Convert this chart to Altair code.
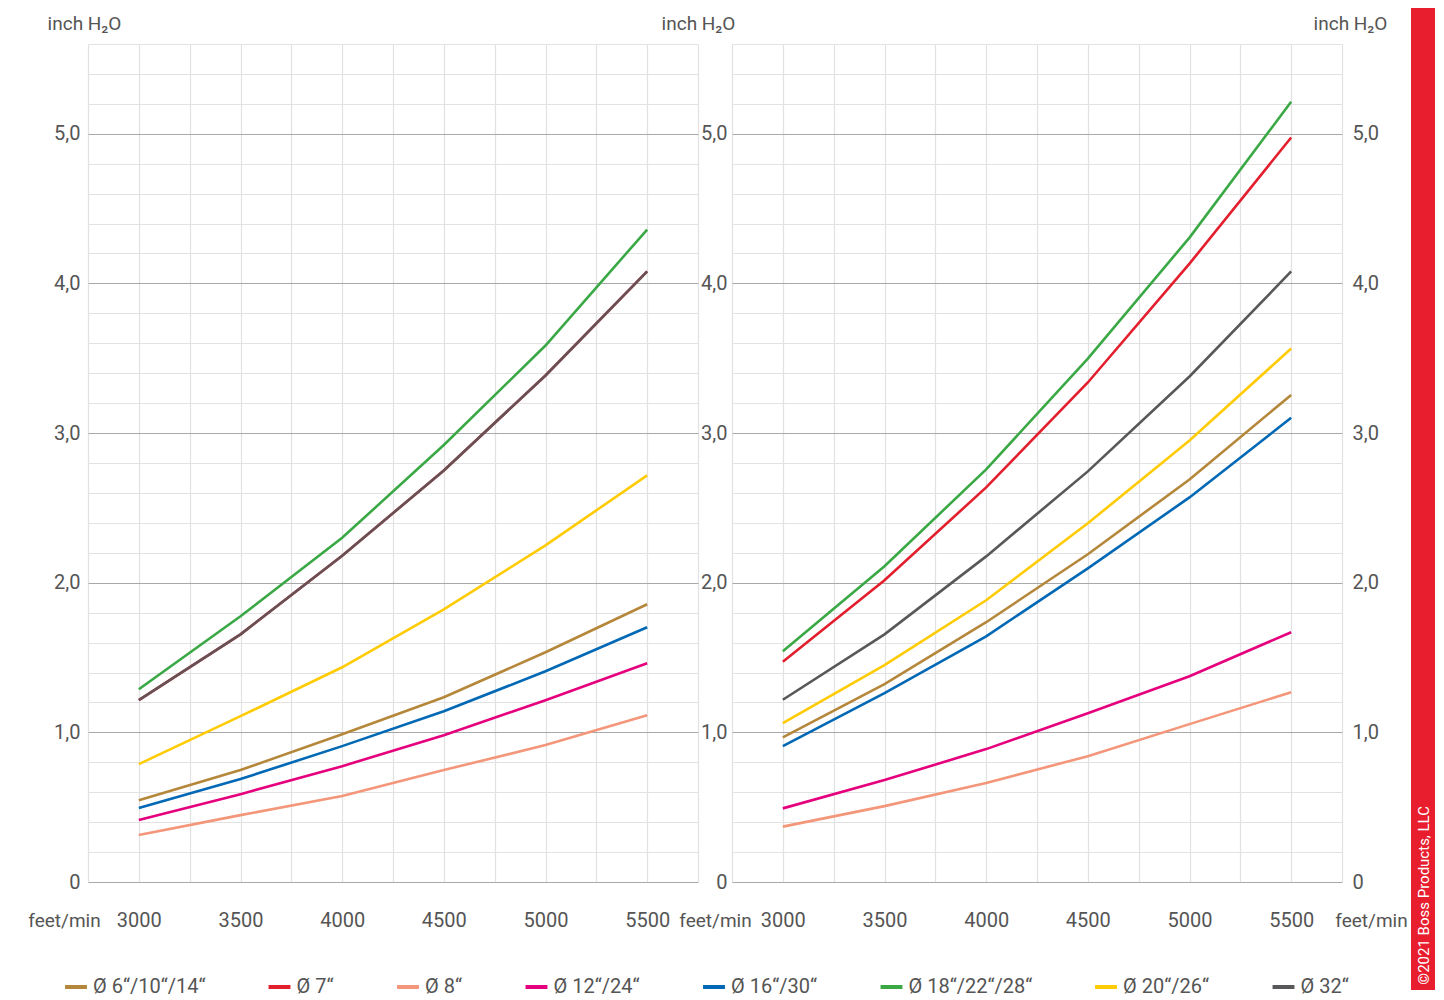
import altair as alt
import pandas as pd

speeds = [3000, 3500, 4000, 4500, 5000, 5500]
series = ["Ø 6“/10“/14“", "Ø 7“", "Ø 8“", "Ø 12“/24“", "Ø 16“/30“",
          "Ø 18“/22“/28“", "Ø 20“/26“", "Ø 32“"]
colors = ["#B5873A", "#E31E2D", "#F4967A", "#E5007D", "#0068B4",
          "#3AA845", "#FFCB05", "#58585A"]

# left panel values (inch H2O)
left_6_10_14 = [0.547, 0.748, 0.988, 1.235, 1.535, 1.856]
left_7 = [1.215, 1.655, 2.180, 2.750, 3.385, 4.080]
left_8 = [0.314, 0.447, 0.574, 0.748, 0.915, 1.115]
left_12_24 = [0.414, 0.587, 0.774, 0.981, 1.215, 1.462]
left_16_30 = [0.494, 0.688, 0.908, 1.141, 1.408, 1.702]
left_18_22_28 = [1.288, 1.776, 2.300, 2.920, 3.585, 4.360]
left_20_26 = [0.788, 1.108, 1.435, 1.822, 2.250, 2.717]
left_32 = [1.215, 1.655, 2.180, 2.750, 3.385, 4.080]

# right panel values (inch H2O)
right_6_10_14 = [0.966, 1.322, 1.736, 2.190, 2.690, 3.255]
right_7 = [1.472, 2.016, 2.637, 3.338, 4.132, 4.975]
right_8 = [0.370, 0.507, 0.661, 0.841, 1.055, 1.268]
right_12_24 = [0.492, 0.681, 0.888, 1.128, 1.375, 1.669]
right_16_30 = [0.908, 1.262, 1.642, 2.096, 2.570, 3.102]
right_18_22_28 = [1.542, 2.110, 2.757, 3.498, 4.306, 5.214]
right_20_26 = [1.062, 1.449, 1.883, 2.397, 2.950, 3.565]
right_32 = [1.218, 1.655, 2.176, 2.744, 3.378, 4.080]

x_ticks = [2750, 3000, 3250, 3500, 3750, 4000, 4250, 4500, 4750, 5000, 5250, 5500, 5750]
y_ticks = [0.0, 0.2, 0.4, 0.6, 0.8, 1.0, 1.2, 1.4, 1.6, 1.8, 2.0, 2.2, 2.4, 2.6, 2.8,
           3.0, 3.2, 3.4, 3.6, 3.8, 4.0, 4.2, 4.4, 4.6, 4.8, 5.0, 5.2, 5.4, 5.6]
x_title = "feet/min"
y_title = "inch H₂O"
credit = ["©2021 Boss Products, LLC"]

left_vals = [left_6_10_14, left_7, left_8, left_12_24, left_16_30, left_18_22_28, left_20_26, left_32]
right_vals = [right_6_10_14, right_7, right_8, right_12_24, right_16_30, right_18_22_28, right_20_26, right_32]


def make_df(vals):
    rows = []
    for i, (name, v) in enumerate(zip(series, vals)):
        for s, val in zip(speeds, v):
            rows.append({"series": name, "idx": i, "speed": s, "value": val})
    return pd.DataFrame(rows)


df_left = make_df(left_vals)
df_right = make_df(right_vals)

FONT = "Roboto"
LABEL_COLOR = "#555555"
MINOR = "#E2E2E2"
MAJOR = "#A9A9A9"
major_test = "abs(datum.value - round(datum.value)) < 0.001"
y_label_expr = ("datum.value == 0 ? '0' : (abs(datum.value - round(datum.value)) < 0.001 ? "
                "replace(format(datum.value, '.1f'), '.', ',') : '')")
x_label_expr = "(datum.value % 500 == 0) ? format(datum.value, 'd') : ''"

xscale = alt.Scale(domain=[2750, 5750], nice=False, zero=False)
yscale = alt.Scale(domain=[0, 5.6], nice=False, zero=False)
cscale = alt.Scale(domain=series, range=colors)

legend = alt.Legend(
    orient="none", legendX=-25, legendY=930, direction="horizontal", title=None,
    symbolType="stroke", symbolStrokeWidth=4, symbolSize=480, labelFontSize=20,
    labelColor=LABEL_COLOR, labelFont=FONT, columnPadding=54.5, labelOffset=4,
    symbolOpacity=1,
)


def x_axis_main(title_x):
    return alt.Axis(
        values=x_ticks, labelExpr=x_label_expr, grid=True, gridColor=MINOR, gridWidth=1.2,
        domain=False, ticks=False, tickSize=0, labelPadding=38, labelBaseline="middle",
        labelFontSize=20, labelColor=LABEL_COLOR, labelFont=FONT, labelFlush=False,
        title=x_title, titleX=title_x, titleY=38, titleAngle=0, titleAlign="center",
        titleBaseline="middle", titleFontSize=19, titleFont=FONT, titleColor=LABEL_COLOR,
        titleFontWeight="normal",
    )


def x_axis_side(title_x):
    return alt.Axis(
        orient="bottom", values=x_ticks, labels=False, grid=False, domain=False, ticks=False,
        tickSize=0, title=x_title, titleX=title_x, titleY=38, titleAngle=0, titleAlign="center",
        titleBaseline="middle", titleFontSize=19, titleFont=FONT, titleColor=LABEL_COLOR,
        titleFontWeight="normal",
    )


def y_axis(orient, pad, title_x, grid):
    return alt.Axis(
        orient=orient, values=y_ticks, labelExpr=y_label_expr, grid=grid,
        gridColor={"condition": {"test": major_test, "value": MAJOR}, "value": MINOR},
        gridWidth=1.2, domain=False, ticks=False, tickSize=0, labelPadding=pad,
        labelFontSize=20, labelColor=LABEL_COLOR, labelFont=FONT, labelBaseline="middle",
        labelFlush=False,
        title=y_title, titleX=title_x, titleY=-15, titleAngle=0, titleAlign="center",
        titleBaseline="alphabetic", titleFontSize=19, titleFont=FONT, titleColor=LABEL_COLOR,
        titleFontWeight="normal",
    )


def lines(df, xa, ya, opacity=1.0):
    return alt.Chart(df).mark_line(strokeWidth=2.6, opacity=opacity).encode(
        x=alt.X("speed:Q", scale=xscale, axis=xa),
        y=alt.Y("value:Q", scale=yscale, axis=ya),
        color=alt.Color("series:N", scale=cscale, legend=legend),
        order="speed:Q",
    )


W, H = 610, 838

lx = x_axis_main(-24)
ly = y_axis("left", 8, -4, True)
left = alt.layer(
    lines(df_left[df_left["idx"] < 7], lx, ly),
    lines(df_left[df_left["idx"] == 7], lx, ly, opacity=0.9),
).properties(width=W, height=H)

ra_x = x_axis_main(-17)
ra_y = y_axis("left", 5, -34, True)
rb_x = x_axis_side(W + 29)
rb_y = y_axis("right", 10, 8, False)

red_bar = alt.Chart(pd.DataFrame({"a": [0]})).mark_rect(color="#E81D2D").encode(
    x=alt.value(W + 69), x2=alt.value(W + 93), y=alt.value(-36), y2=alt.value(946)
)
credit_text = alt.Chart(pd.DataFrame({"t": credit})).mark_text(
    angle=270, align="right", baseline="middle", color="white", fontSize=15, font=FONT
).encode(x=alt.value(W + 82), y=alt.value(762), text="t:N")

right = alt.layer(
    lines(df_right[df_right["idx"] < 4], ra_x, ra_y),
    lines(df_right[df_right["idx"] >= 4], rb_x, rb_y),
    red_bar,
    credit_text,
).resolve_axis(x="independent", y="independent").properties(width=W, height=H)

chart = alt.hconcat(left, right, spacing=34, bounds="flush").properties(
    padding={"left": 19, "top": 0, "right": 0, "bottom": 0}, background="white"
).configure_view(stroke=None)

chart.save("out.html", embed_options={"renderer": "svg", "actions": False})
